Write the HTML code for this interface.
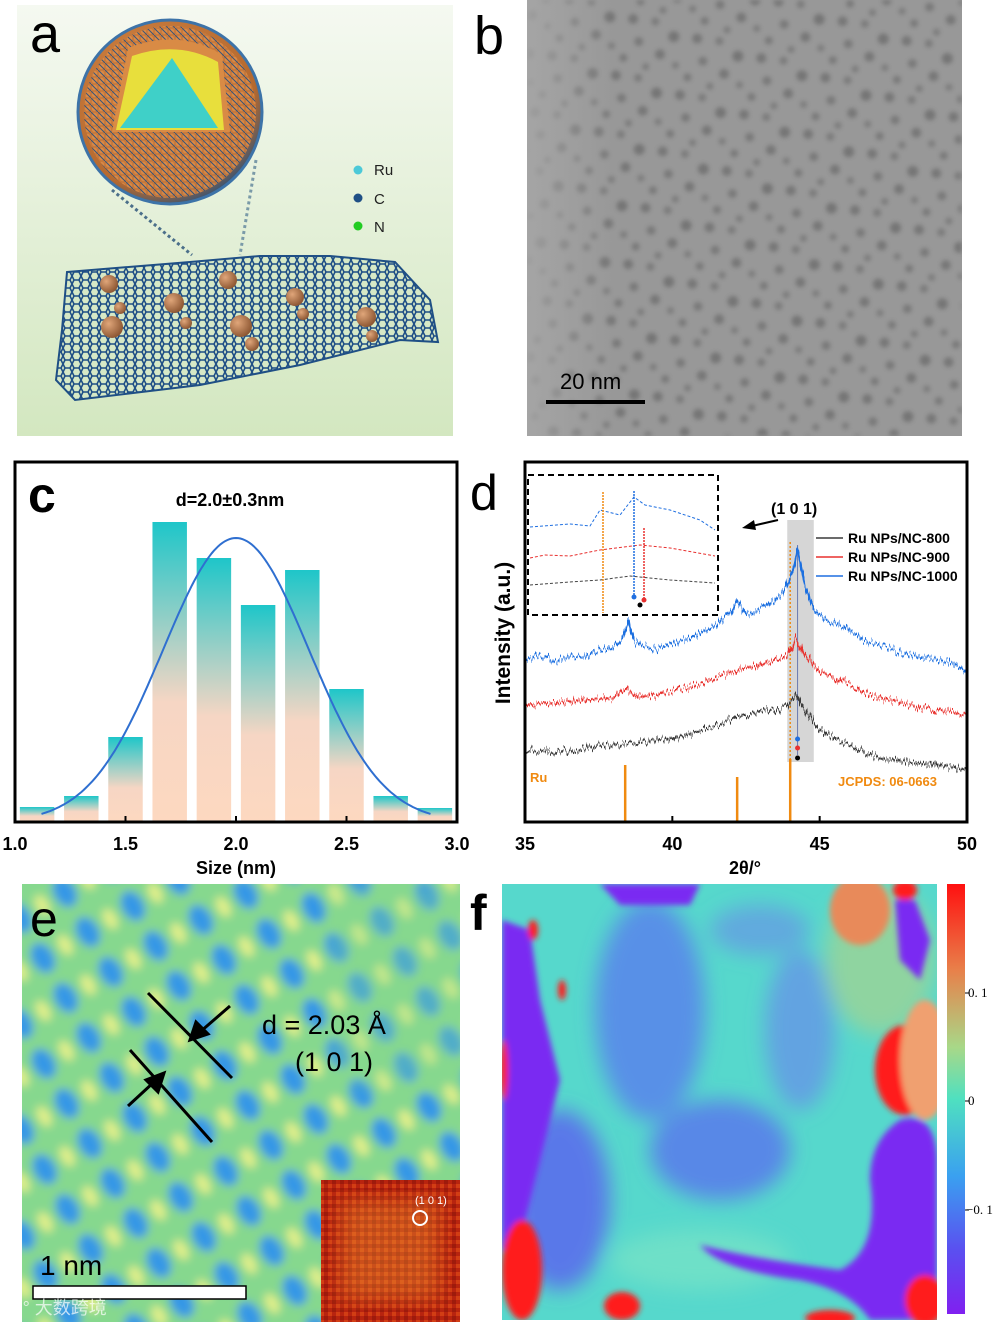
<!DOCTYPE html>
<html><head><meta charset="utf-8"><style>
html,body{margin:0;padding:0;background:#fff;}
svg{display:block;font-family:"Liberation Sans","Noto Sans CJK SC",sans-serif;}
</style></head><body>
<svg id="fig" width="1000" height="1324" viewBox="0 0 1000 1324" xmlns="http://www.w3.org/2000/svg">
<defs>
  <linearGradient id="bgA" x1="0" y1="0" x2="0" y2="1">
    <stop offset="0" stop-color="#f5f9f1"/><stop offset="1" stop-color="#d3e7c0"/>
  </linearGradient>
  <linearGradient id="barG" x1="0" y1="0" x2="0" y2="1">
    <stop offset="0" stop-color="#1ec6c9"/><stop offset="0.6" stop-color="#f6d6c4"/><stop offset="1" stop-color="#fdd8c0"/>
  </linearGradient>
  <radialGradient id="sphG" cx="0.4" cy="0.35" r="0.7">
    <stop offset="0" stop-color="#d88a48"/><stop offset="0.8" stop-color="#b5692f"/><stop offset="1" stop-color="#25517e"/>
  </radialGradient>
  <radialGradient id="ruG" cx="0.35" cy="0.35" r="0.7">
    <stop offset="0" stop-color="#e0a67a"/><stop offset="1" stop-color="#8a5430"/>
  </radialGradient>
  <pattern id="hex" width="9" height="8" patternUnits="userSpaceOnUse">
    <rect width="9" height="8" fill="#d6e8c6"/>
    <path d="M0 4 L2 0 L7 0 L9 4 L7 8 L2 8 Z" fill="none" stroke="#1f4f85" stroke-width="1.6"/>
  </pattern>
  <pattern id="shellDots" width="7" height="7" patternUnits="userSpaceOnUse">
    <rect width="7" height="7" fill="#c97a3c"/>
    <circle cx="3.5" cy="3.5" r="2.6" fill="#e08e48"/>
    <path d="M0 0 L7 7" stroke="#1f4f85" stroke-width="1"/>
  </pattern>
  <pattern id="spots" width="67" height="59" patternUnits="userSpaceOnUse" patternTransform="rotate(17)">
    <circle cx="8" cy="10" r="5" fill="#505050"/>
    <circle cx="30" cy="6" r="4" fill="#5a5a5a"/>
    <circle cx="52" cy="15" r="5.5" fill="#4c4c4c"/>
    <circle cx="20" cy="30" r="4.5" fill="#555"/>
    <circle cx="44" cy="36" r="5" fill="#4f4f4f"/>
    <circle cx="62" cy="42" r="3.5" fill="#5c5c5c"/>
    <circle cx="10" cy="50" r="4" fill="#555"/>
    <circle cx="34" cy="52" r="3.5" fill="#5a5a5a"/>
  </pattern>
  <filter id="noise" x="0" y="0" width="1" height="1">
    <feTurbulence type="fractalNoise" baseFrequency="0.9" numOctaves="2" seed="3" result="n"/>
    <feColorMatrix in="n" type="matrix" values="0 0 0 0 0  0 0 0 0 0  0 0 0 0 0  0 0 0 -1.2 0.9" result="fine"/>
    <feMerge><feMergeNode in="SourceGraphic"/><feMergeNode in="fine"/></feMerge>
  </filter>
  <filter id="jag" x="-0.05" y="-0.3" width="1.1" height="1.6">
    <feTurbulence type="fractalNoise" baseFrequency="0.6 0.03" numOctaves="2" seed="5" result="t"/>
    <feColorMatrix in="t" type="matrix" values="1 0 0 0 0  0 0 0 0 0.5  0 0 0 0 0  0 0 0 0 1" result="t2"/>
    <feDisplacementMap in="SourceGraphic" in2="t2" scale="16" xChannelSelector="G" yChannelSelector="R"/>
  </filter>
  <filter id="blur4"><feGaussianBlur stdDeviation="4.5"/></filter>
  <filter id="blur3"><feGaussianBlur stdDeviation="3"/></filter>
  <filter id="blur2"><feGaussianBlur stdDeviation="2"/></filter>
  <filter id="blur10"><feGaussianBlur stdDeviation="10"/></filter>
  <linearGradient id="bFade" x1="0" y1="0" x2="1" y2="0">
    <stop offset="0" stop-color="#a8a8a8" stop-opacity="0.8"/><stop offset="0.2" stop-color="#a8a8a8" stop-opacity="0"/>
  </linearGradient>
  <pattern id="lattice" width="52" height="46" patternUnits="userSpaceOnUse" patternTransform="rotate(-30)">
    <rect width="52" height="46" fill="#86d88e"/>
    <ellipse cx="26" cy="23" rx="11" ry="16" fill="#3497e6"/>
    <ellipse cx="0" cy="23" rx="6" ry="11" fill="#e4f08a"/>
    <ellipse cx="52" cy="23" rx="6" ry="11" fill="#e4f08a"/>
  </pattern>
  <pattern id="fft" width="8" height="8" patternUnits="userSpaceOnUse">
    <rect width="8" height="8" fill="#b8240f"/>
    <rect width="4" height="4" fill="#d23e14"/>
    <rect x="4" y="4" width="4" height="4" fill="#9e1b0c"/>
  </pattern>
  <linearGradient id="cbar" x1="0" y1="0" x2="0" y2="1">
    <stop offset="0" stop-color="#ff1010"/><stop offset="0.2" stop-color="#e8804a"/><stop offset="0.38" stop-color="#a8d888"/>
    <stop offset="0.5" stop-color="#4fe0c0"/><stop offset="0.68" stop-color="#3aa0f0"/><stop offset="0.85" stop-color="#5a50f0"/><stop offset="1" stop-color="#8020f0"/>
  </linearGradient>
  <clipPath id="clipF"><rect x="502" y="884" width="435" height="436"/></clipPath>
  <clipPath id="clipE"><rect x="22" y="884" width="438" height="438"/></clipPath>
  <clipPath id="clipB"><rect x="527" y="0" width="435" height="436"/></clipPath>
</defs>

<!-- Panel a -->
<g>
  <rect x="17" y="5" width="436" height="431" fill="url(#bgA)"/>
  <polygon points="67,272 190,262 260,256 330,256 395,262 430,300 438,342 400,340 300,365 200,385 75,400 56,380 62,330" fill="url(#hex)" stroke="#1f4f85" stroke-width="2"/>
  <g fill="url(#ruG)">
    <circle cx="109" cy="284" r="9"/><circle cx="112" cy="327" r="11"/><circle cx="174" cy="303" r="10"/>
    <circle cx="228" cy="280" r="9"/><circle cx="241" cy="326" r="11"/><circle cx="295" cy="297" r="9"/>
    <circle cx="366" cy="317" r="10"/><circle cx="120" cy="308" r="6"/><circle cx="186" cy="323" r="6"/>
    <circle cx="252" cy="344" r="7"/><circle cx="303" cy="314" r="6"/><circle cx="372" cy="336" r="6"/>
  </g>
  <line x1="112" y1="190" x2="192" y2="255" stroke="#4b6f8a" stroke-width="3" stroke-dasharray="3,3"/>
  <line x1="256" y1="160" x2="240" y2="255" stroke="#7a9aa8" stroke-width="3" stroke-dasharray="3,3"/>
  <g>
    <circle cx="170" cy="112" r="92" fill="url(#sphG)"/>
    <circle cx="170" cy="112" r="86" fill="url(#shellDots)" opacity="0.85"/>
    <path d="M112 132 L128 48 Q180 28 222 55 L230 132 Z" fill="#d98b45"/>
    <path d="M116 130 L132 56 Q178 40 218 62 L224 130 Z" fill="#e8df3c"/>
    <path d="M120 128 L172 58 L218 128 Z" fill="#3fd0c8"/>
    <circle cx="170" cy="112" r="92" fill="none" stroke="#3d73a8" stroke-width="3"/>
  </g>
  <g font-size="15" fill="#222">
    <circle cx="358" cy="170" r="4.5" fill="#4cc9d8"/><text x="374" y="175">Ru</text>
    <circle cx="358" cy="198" r="4.5" fill="#1f4f85"/><text x="374" y="204">C</text>
    <circle cx="358" cy="226" r="4.5" fill="#22cc22"/><text x="374" y="232">N</text>
  </g>
  <text x="30" y="52" font-size="54" fill="#000">a</text>
</g>

<!-- Panel b -->
<g>
  <g clip-path="url(#clipB)">
    <rect x="527" y="0" width="435" height="436" fill="#999999"/>
    <rect x="527" y="0" width="435" height="436" fill="url(#spots)" filter="url(#blur2)" opacity="0.45"/>
    <rect x="527" y="0" width="435" height="436" fill="#9a9a9a" opacity="0.01" filter="url(#noise)"/>
    <rect x="527" y="0" width="435" height="436" fill="url(#bFade)"/>
  </g>
  <rect x="546" y="400" width="99" height="4" fill="#000"/>
  <text x="560" y="389" font-size="22" fill="#000">20 nm</text>
  <text x="474" y="54" font-size="54" fill="#000">b</text>
</g>

<!-- Panel c -->
<g id="panelC">
  <text x="28" y="512" font-size="50" font-weight="bold" fill="#000">c</text>
  <text x="230" y="506" font-size="18" font-weight="bold" text-anchor="middle">d=2.0±0.3nm</text>
  <text x="236" y="874" font-size="18" font-weight="bold" text-anchor="middle">Size (nm)</text>
</g>

<!-- Panel d -->
<g id="panelD">
  <text x="470" y="510" font-size="50" fill="#000">d</text>
  <text transform="translate(510,633) rotate(-90)" font-size="21" font-weight="bold" text-anchor="middle">Intensity (a.u.)</text>
  <text x="745" y="874" font-size="18" font-weight="bold" text-anchor="middle">2θ/°</text>
</g>

<!-- Panel e -->
<g>
  <g clip-path="url(#clipE)">
    <rect x="0" y="860" width="480" height="480" fill="url(#lattice)" filter="url(#blur4)"/>
    <rect x="330" y="884" width="140" height="200" fill="#86d88e" opacity="0.35" filter="url(#blur10)"/>
  </g>
  <g stroke="#000" stroke-width="3" fill="none">
    <line x1="148" y1="993" x2="232" y2="1078"/>
    <line x1="130" y1="1050" x2="212" y2="1142"/>
  </g>
  <g stroke="#000" stroke-width="3">
    <line x1="230" y1="1006" x2="200" y2="1032"/><polygon points="190,1040 196,1022 208,1034" fill="#000"/>
    <line x1="128" y1="1106" x2="154" y2="1082"/><polygon points="164,1073 158,1092 146,1080" fill="#000"/>
  </g>
  <text x="262" y="1034" font-size="27" fill="#000">d = 2.03 Å</text>
  <text x="295" y="1071" font-size="27" fill="#000">(1 0 1)</text>
  <g>
    <rect x="321" y="1180" width="139" height="142" fill="url(#fft)"/>
    <rect x="340" y="1200" width="100" height="100" fill="#f0a030" opacity="0.35" filter="url(#blur10)"/>
    <circle cx="420" cy="1218" r="7" fill="none" stroke="#fff" stroke-width="2"/>
    <text x="415" y="1204" font-size="11" fill="#fff">(1 0 1)</text>
  </g>
  <text x="40" y="1275" font-size="28" fill="#000">1 nm</text>
  <rect x="33" y="1286" width="213" height="13" fill="#fff" stroke="#000" stroke-width="1.5"/>
  <text x="10" y="1314" font-size="18" fill="#fff" opacity="0.7">ℂ° 大数跨境</text>
  <text x="30" y="936" font-size="50" fill="#000">e</text>
</g>

<!-- Panel f -->
<g>
  <g clip-path="url(#clipF)">
    <rect x="502" y="884" width="435" height="436" fill="#56d8cc"/>
    <g filter="url(#blur10)">
      <ellipse cx="650" cy="1010" rx="55" ry="110" fill="#5a78f0" opacity="0.75"/>
      <ellipse cx="720" cy="1150" rx="70" ry="50" fill="#5a6cf0" opacity="0.75"/>
      <ellipse cx="800" cy="1030" rx="35" ry="80" fill="#6a80f0" opacity="0.6"/>
      <ellipse cx="560" cy="1200" rx="50" ry="90" fill="#5a60f0" opacity="0.8"/>
      <ellipse cx="760" cy="930" rx="50" ry="25" fill="#6c7cf0" opacity="0.5"/>
      <ellipse cx="880" cy="960" rx="55" ry="75" fill="#8fd4a0"/>
      <ellipse cx="700" cy="1260" rx="90" ry="30" fill="#6ee0c8"/>
    </g>
    <g filter="url(#blur3)">
      <path d="M502 920 L530 930 L540 1000 L560 1080 L540 1160 L520 1240 L502 1250 Z" fill="#7a2cf2"/>
      <path d="M600 884 L700 884 L690 905 L620 905 Z" fill="#7a2cf2"/>
      <path d="M900 1120 Q935 1110 937 1160 L937 1320 L870 1320 Q850 1290 800 1280 Q720 1270 700 1245 Q760 1260 840 1270 Q880 1250 870 1180 Q870 1140 900 1120 Z" fill="#7a2cf2"/>
      <path d="M895 900 L915 900 L930 940 L920 980 L900 960 Z" fill="#7a2cf2"/>
      <ellipse cx="905" cy="1070" rx="30" ry="45" fill="#ff1a1a"/>
      <ellipse cx="860" cy="910" rx="30" ry="35" fill="#e88a5a"/>
      <ellipse cx="925" cy="1060" rx="25" ry="60" fill="#f0a070"/>
      <ellipse cx="522" cy="1270" rx="20" ry="50" fill="#ff1a1a"/>
      <ellipse cx="622" cy="1306" rx="18" ry="14" fill="#ff1a1a"/>
      <ellipse cx="830" cy="1318" rx="25" ry="8" fill="#ff1a1a"/>
      <ellipse cx="925" cy="1300" rx="20" ry="25" fill="#ff1a1a"/>
      <ellipse cx="905" cy="890" rx="12" ry="10" fill="#ff1a1a"/>
      <ellipse cx="533" cy="930" rx="5" ry="10" fill="#ff1a1a"/>
      <ellipse cx="562" cy="990" rx="4" ry="10" fill="#ff1a1a"/>
      <ellipse cx="504" cy="1070" rx="4" ry="30" fill="#ff1a1a"/>
    </g>
  </g>
  <rect x="947" y="884" width="18" height="430" fill="url(#cbar)"/>
  <g font-family="Liberation Serif, serif" font-size="13" fill="#000">
    <line x1="965" y1="993" x2="969" y2="993" stroke="#000"/><text x="968" y="997">0. 1</text>
    <line x1="965" y1="1101" x2="969" y2="1101" stroke="#000"/><text x="968" y="1105">0</text>
    <line x1="965" y1="1210" x2="969" y2="1210" stroke="#000"/><text x="966" y="1214">−0. 1</text>
  </g>
  <text x="470" y="930" font-size="50" font-weight="bold" fill="#000">f</text>
</g>
</svg>

<script>
// ---------- Panel c data ----------
const sizeCenters = [1.1, 1.3, 1.5, 1.7, 1.9, 2.1, 2.3, 2.5, 2.7, 2.9];
const sizeFreq = [1.5, 2.6, 8.5, 30.0, 26.4, 21.7, 25.2, 13.3, 2.6, 1.4];
const sizeTicks = ["1.0", "1.5", "2.0", "2.5", "3.0"];
const fitMean = [2.0];
const fitSigma = [0.33];
const fitPeak = [28.4];

// ---------- Panel d data ----------
const theta = [35,35.5,36,36.5,37,37.5,38,38.3,38.5,38.7,39,39.5,40,40.5,41,41.5,42,42.2,42.5,43,43.5,43.8,44.1,44.25,44.5,44.8,45,45.5,46,46.5,47,47.5,48,48.5,49,49.5,50];
const blue1000 = [162,167,160,167,165,172,174,182,200,182,177,172,179,182,190,197,210,222,207,214,222,232,252,272,237,212,207,200,192,182,177,172,167,165,162,159,150];
const thetaR = [35,36,37,38,38.4,38.8,39.5,40,40.5,41,41.5,42,42.5,43,43.5,43.9,44.2,44.5,45,45.5,46,46.5,47,47.5,48,48.5,49,49.5,50];
const red900 = [117,119,122,124,134,125,127,132,134,139,144,150,154,157,162,167,184,167,150,144,137,130,124,122,117,114,112,110,105];
const thetaK = [35,36,37,38,39,40,40.5,41,41.5,42,42.5,43,43.5,43.9,44.2,44.5,45,45.5,46,46.5,47,47.5,48,48.5,49,49.5,50];
const black800 = [72,70,74,77,80,84,87,92,97,102,107,110,112,117,127,112,92,84,77,70,64,62,60,58,57,55,52];
const refPeaks = [38.4, 42.2, 44.0];
const refHeights = [19, 15, 21];
const thetaTicks = ["35", "40", "45", "50"];

const NS = "http://www.w3.org/2000/svg";
function mk(tag, attrs, parent) {
  const e = document.createElementNS(NS, tag);
  for (const k in attrs) e.setAttribute(k, attrs[k]);
  parent.appendChild(e);
  return e;
}

// ---------- Panel c ----------
(function () {
  const g = document.getElementById("panelC");
  const L = 15, R = 457, T = 462, B = 822;
  const xs = v => L + (v - 1.0) / 2.0 * (R - L);
  const ys = v => B - v / 36 * (B - T);
  sizeCenters.forEach((c, i) => {
    const w = xs(c + 0.078) - xs(c - 0.078);
    const r = mk("rect", {x: xs(c - 0.078), y: ys(sizeFreq[i]), width: w, height: B - ys(sizeFreq[i]), fill: "url(#barG)"}, g);
    
    
  });
  let d = "";
  for (let v = 1.12; v <= 2.88; v += 0.01) {
    const y = fitPeak[0] * Math.exp(-Math.pow(v - fitMean[0], 2) / (2 * fitSigma[0] * fitSigma[0]));
    d += (d ? "L" : "M") + xs(v).toFixed(1) + " " + ys(y).toFixed(1);
  }
  const p = mk("path", {d: d, fill: "none", stroke: "#2f6fd0", "stroke-width": 2}, g);
  
  
  const box = mk("rect", {x: L, y: T, width: R - L, height: B - T, fill: "none", stroke: "#000", "stroke-width": 3}, g);
  
  
  sizeTicks.forEach(t => {
    const x = xs(parseFloat(t));
    mk("line", {x1: x, y1: B, x2: x, y2: B - 6, stroke: "#000", "stroke-width": 2}, g);
    const tx = mk("text", {x: x, y: B + 28, "font-size": 18, "font-weight": "bold", "text-anchor": "middle"}, g);
    tx.textContent = t;
    
    
  });
})();

// ---------- Panel d ----------
(function () {
  const g = document.getElementById("panelD");
  const L = 525, R = 967, T = 462, B = 822;
  const xs = v => L + (v - 35) / 15 * (R - L);
  const ys = v => B - v / 360 * (B - T);
  const band = mk("rect", {x: xs(43.9), y: 520, width: xs(44.8) - xs(43.9), height: 242, fill: "#d6d6d6"}, g);
  
  
  refPeaks.forEach((p, i) => {
    const l = mk("line", {x1: xs(p), y1: B, x2: xs(p), y2: ys(refHeights[i] * 3), stroke: "#f08a10", "stroke-width": 2.5}, g);
    
    
  });
  mk("line", {x1: xs(44.0), y1: 542, x2: xs(44.0), y2: 762, stroke: "#f08a10", "stroke-width": 1.5, "stroke-dasharray": "2,2"}, g);
  mk("line", {x1: xs(44.25), y1: 545, x2: xs(44.25), y2: 755, stroke: "#6a7ab0", "stroke-width": 1}, g);
  [["#1f6fe0", 739], ["#e8302f", 748], ["#000", 758]].forEach(c => mk("circle", {cx: xs(44.25), cy: c[1], r: 2.5, fill: c[0]}, g));
  function line(xa, ya, color, name) {
    const d = xa.map((x, i) => (i ? "L" : "M") + xs(x).toFixed(1) + " " + ys(ya[i]).toFixed(1)).join("");
    const p = mk("path", {d: d, fill: "none", stroke: color, "stroke-width": 2.2, "stroke-linejoin": "round", filter: "url(#jag)"}, g);
    
    
  }
  line(thetaK, black800, "#3a3a3a", "series-nc-800");
  line(thetaR, red900, "#e8302f", "series-nc-900");
  line(theta, blue1000, "#1f6fe0", "series-nc-1000");
  const box = mk("rect", {x: L, y: T, width: R - L, height: B - T, fill: "none", stroke: "#000", "stroke-width": 3}, g);
  
  
  thetaTicks.forEach(t => {
    const x = xs(parseFloat(t));
    mk("line", {x1: x, y1: B, x2: x, y2: B - 6, stroke: "#000", "stroke-width": 2}, g);
    const tx = mk("text", {x: x, y: B + 28, "font-size": 18, "font-weight": "bold", "text-anchor": "middle"}, g);
    tx.textContent = t;
    
    
  });
  // inset
  const ins = mk("g", {}, g);
  
  
  mk("rect", {x: 528, y: 475, width: 190, height: 140, fill: "#fff", stroke: "#000", "stroke-width": 2, "stroke-dasharray": "6,4"}, ins);
  mk("path", {d: "M530 527 L570 524 L590 526 L600 510 L620 515 L634 497 L645 505 L670 510 L700 520 L715 530", fill: "none", stroke: "#1f6fe0", "stroke-width": 1, "stroke-dasharray": "3,2"}, ins);
  mk("path", {d: "M530 558 L545 555 L570 556 L600 550 L640 545 L670 548 L715 556", fill: "none", stroke: "#e8302f", "stroke-width": 1, "stroke-dasharray": "3,2"}, ins);
  mk("path", {d: "M530 585 L570 582 L600 580 L630 576 L670 580 L715 583", fill: "none", stroke: "#444", "stroke-width": 1, "stroke-dasharray": "3,2"}, ins);
  mk("line", {x1: 603, y1: 492, x2: 603, y2: 613, stroke: "#f08a10", "stroke-width": 1.5, "stroke-dasharray": "2,1"}, ins);
  mk("line", {x1: 634, y1: 491, x2: 634, y2: 597, stroke: "#1f6fe0", "stroke-width": 1.5, "stroke-dasharray": "2,1"}, ins);
  mk("line", {x1: 644, y1: 528, x2: 644, y2: 600, stroke: "#e8302f", "stroke-width": 1.5, "stroke-dasharray": "2,1"}, ins);
  mk("circle", {cx: 634, cy: 597, r: 2.5, fill: "#1f6fe0"}, ins);
  mk("circle", {cx: 644, cy: 600, r: 2.5, fill: "#e8302f"}, ins);
  mk("circle", {cx: 640, cy: 605, r: 2.5, fill: "#000"}, ins);
  // annotations
  const t1 = mk("text", {x: 771, y: 514, "font-size": 16, "font-weight": "bold"}, g); t1.textContent = "(1 0 1)";
  mk("line", {x1: 778, y1: 520, x2: 752, y2: 526, stroke: "#000", "stroke-width": 2}, g);
  mk("polygon", {points: "742,528 754,520 756,530", fill: "#000"}, g);
  const t2 = mk("text", {x: 530, y: 782, "font-size": 13, "font-weight": "bold", fill: "#f08a10"}, g); t2.textContent = "Ru";
  const t3 = mk("text", {x: 838, y: 786, "font-size": 13, "font-weight": "bold", fill: "#f08a10"}, g); t3.textContent = "JCPDS: 06-0663";
  const leg = mk("g", {}, g);
  
  
  [["#3a3a3a", "Ru NPs/NC-800", 538], ["#e8302f", "Ru NPs/NC-900", 557], ["#1f6fe0", "Ru NPs/NC-1000", 576]].forEach(e => {
    mk("line", {x1: 816, y1: e[2], x2: 843, y2: e[2], stroke: e[0], "stroke-width": 1.5}, leg);
    const t = mk("text", {x: 848, y: e[2] + 5, "font-size": 14, "font-weight": "bold"}, leg);
    t.textContent = e[1];
    
    
  });
})();
</script>
</body></html>
